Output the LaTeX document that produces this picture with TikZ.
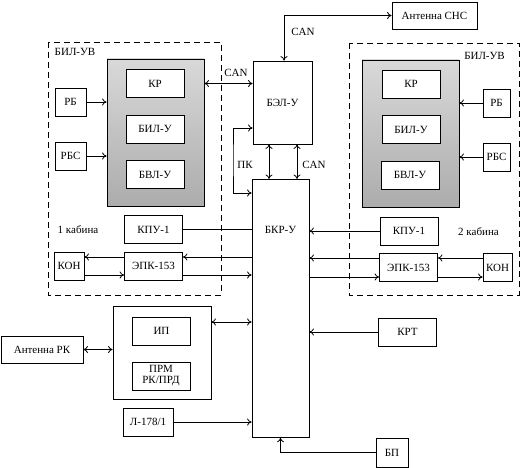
\documentclass[tikz,border=0pt]{standalone}
\usepackage{fontspec}
\setmainfont{Liberation Serif}
\usetikzlibrary{arrows.meta}

\tikzset{
    blk/.style={draw, fill=white, inner sep=1pt, minimum width=58pt, minimum height=28pt,
        font=\fontsize{11}{12}\selectfont},
    shadebox/.style={draw, minimum width=97pt, minimum height=147pt,
        top color=gray!30, bottom color=gray!65},
    cabin/.style={dash pattern=on 6pt off 4pt},
    lbl/.style={font=\fontsize{11}{12}\selectfont},
    >={To[length=4.5pt,width=7pt]}
}

\begin{document}
\begin{tikzpicture}[x=1pt,y=-1pt,line width=0.8pt]
        \useasboundingbox (0,0) rectangle (522,468);
        % cabin 1
        \draw[cabin] (48,42) rectangle (221,295);
        \node[lbl] (bilL) at (75,52) {БИЛ-УВ};
        \node[shadebox] (grayL) at (155.5,132.5) {};
        \node[blk] (krL) at (155,83.5) {КР};
        \node[blk] (bilyL) at (155,129) {БИЛ-У};
        \node[blk] (bvlL) at (155,174.5) {БВЛ-У};
        \node[blk, minimum width=31pt] (rbL) at (70.5,102) {РБ};
        \node[blk, minimum width=31pt] (rbsL) at (70.5,156) {РБС};
        \node[lbl] (cabL) at (78,230) {1 кабина};
        \node[blk] (kpuL) at (153.5,229.5) {КПУ-1};
        \node[blk, minimum width=30pt] (konL) at (69,266) {КОН};
        \node[blk] (epkL) at (153.5,266) {ЭПК-153};
        % cabin 2
        \draw[cabin] (349,43) rectangle (519,295);
        \node[lbl] (bilR) at (484.5,56) {БИЛ-УВ};
        \node[shadebox] (grayR) at (410.5,133.5) {};
        \node[blk] (krR) at (411,84) {КР};
        \node[blk] (bilyR) at (411,129.5) {БИЛ-У};
        \node[blk] (bvlR) at (410,175) {БВЛ-У};
        \node[blk, minimum width=27pt] (rbR) at (496.5,103) {РБ};
        \node[blk, minimum width=27pt] (rbsR) at (496.5,157) {РБС};
        \node[lbl] (cabR) at (478.5,232) {2 кабина};
        \node[blk] (kpuR) at (409,231) {КПУ-1};
        \node[blk] (epkR) at (408.5,267.5) {ЭПК-153};
        \node[blk, minimum width=29pt] (konR) at (497.5,267.5) {КОН};
        % centre
        \node[blk, minimum width=59pt, minimum height=83pt] (bel) at (282.5,102.5) {БЭЛ-У};
        \node[blk, minimum width=57pt, minimum height=258pt, anchor=north] (bkr) at (280.5,179) {};
        \node[lbl] (bkrT) at (280.5,230) {БКР-У};
        \node[blk, minimum width=85pt, minimum height=27pt] (antS) at (434.5,15.5) {Антенна СНС};
        % bottom
        \node[blk, minimum width=98pt, minimum height=93pt] (radio) at (162,352.5) {};
        \node[blk] (ip) at (161.5,331) {ИП};
        \node[blk, align=center, font=\fontsize{11}{11}\selectfont] (prm) at (161,376) {ПРМ\\РК/ПРД};
        \node[blk, minimum width=82pt, minimum height=27pt] (antRK) at (42,349.5) {Антенна РК};
        \node[blk, minimum width=50pt] (l178) at (148,422) {Л-178/1};
        \node[blk] (krt) at (407.5,332) {КРТ};
        \node[blk, minimum width=32pt, minimum height=29pt] (bp) at (392,452.5) {БП};

        % CAN links
        \draw[<->] (grayL.east |- krL) -- (bel.west |- krL);
        \node[lbl] (canA) at (236,73) {CAN};
        \draw[<->] (bel.north -| 284,0) |- (antS.west);
        \node[lbl] (canB) at (303,32) {CAN};
        \draw[<->] (bel.south -| 269,0) -- (bkr.north -| 269,0);
        \draw[<->] (bel.south -| 297,0) -- (bkr.north -| 297,0);
        \node[lbl] (canC) at (314,165) {CAN};
        \coordinate (pk) at (233,160);
        \draw[<->] (bel.west |- 0,128) -| (pk) |- (bkr.west |- 0,193);
        \node[lbl] (pkT) at (245,165) {ПК};

        % cabin 1 links
        \draw[->] (rbL) -- (rbL -| grayL.west);
        \draw[->] (rbsL) -- (rbsL -| grayL.west);
        \draw (kpuL.east) -- (kpuL -| bkr.west);
        \draw[->] (epkL.west |- 0,257) -- (konL.east |- 0,257);
        \draw[->] (konL.east |- 0,275) -- (epkL.west |- 0,275);
        \draw[->] (bkr.west |- 0,257) -- (epkL.east |- 0,257);
        \draw[->] (epkL.east |- 0,275) -- (bkr.west |- 0,275);

        % cabin 2 links
        \draw[->] (rbR) -- (rbR -| grayR.east);
        \draw[->] (rbsR) -- (rbsR -| grayR.east);
        \draw[->] (kpuR.west) -- (kpuR -| bkr.east);
        \draw[->] (konR.west |- 0,258) -- (epkR.east |- 0,258);
        \draw[->] (epkR.east |- 0,277) -- (konR.west |- 0,277);
        \draw[->] (epkR.west |- 0,258) -- (bkr.east |- 0,258);
        \draw[->] (bkr.east |- 0,277) -- (epkR.west |- 0,277);

        % bottom links
        \draw[<->] (radio.east |- 0,322) -- (bkr.west |- 0,322);
        \draw[<->] (antRK.east) -- (antRK -| radio.west);
        \draw[->] (l178.east) -- (l178 -| bkr.west);
        \draw[->] (krt.west) -- (krt -| bkr.east);
        \draw[->] (bp.west) -| (bkr.south);
    \end{tikzpicture}
\end{document}
